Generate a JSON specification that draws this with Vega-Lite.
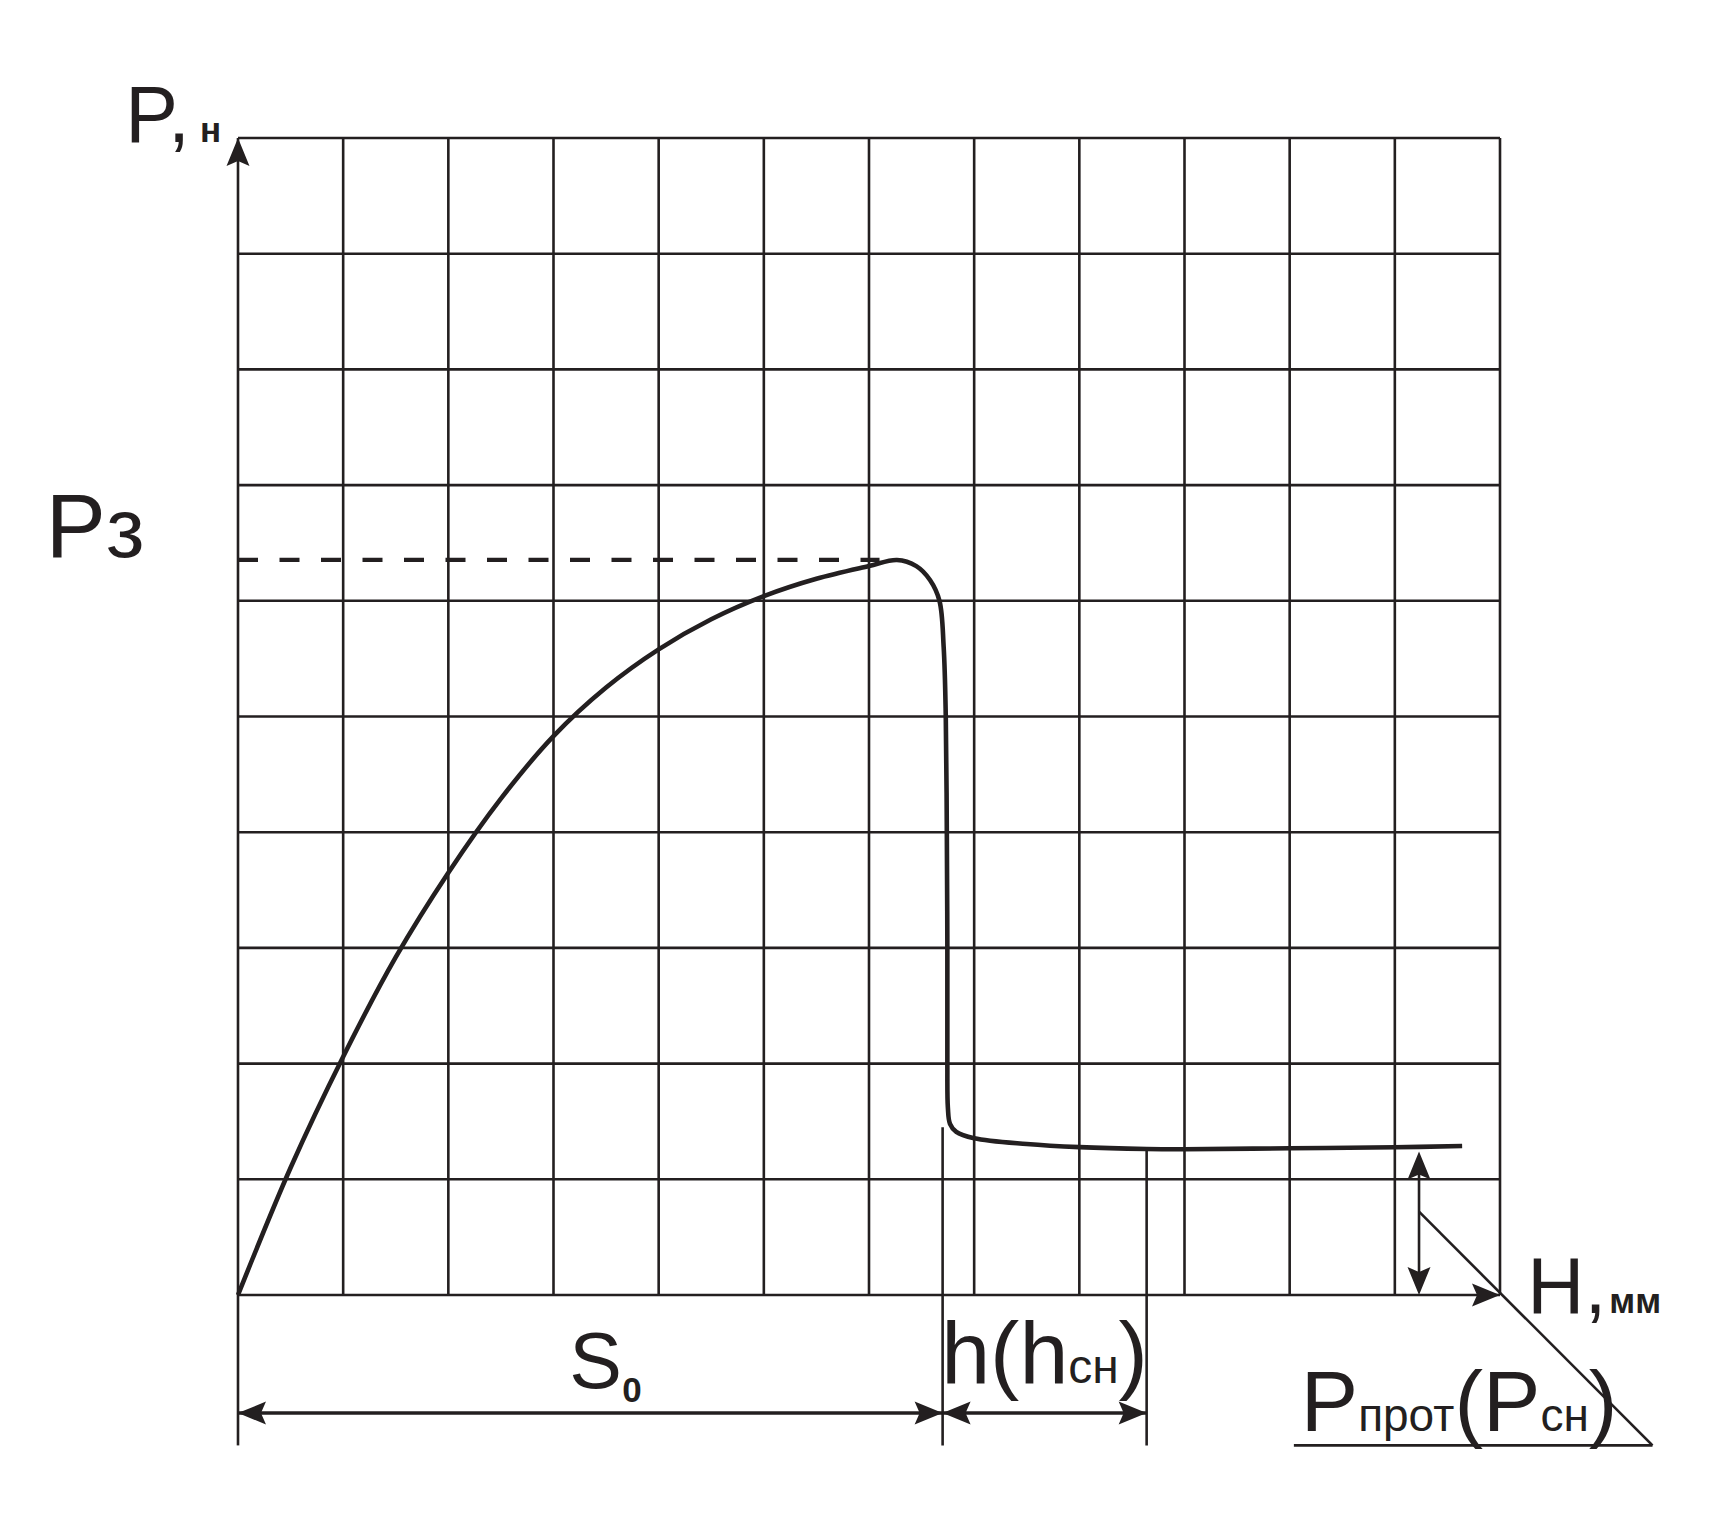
{
  "$schema": "https://vega.github.io/schema/vega-lite/v6.json",
  "width": 1262,
  "height": 1157,
  "autosize": {"type": "none"},
  "padding": {"left": 238, "top": 138, "right": 221, "bottom": 236},
  "background": "white",
  "config": {"view": {"stroke": null}},
  "encoding": {
    "x": {"field": "x", "type": "quantitative", "scale": {"domain": [0, 12], "nice": false, "zero": false}, "axis": null},
    "y": {"field": "y", "type": "quantitative", "scale": {"domain": [0, 10], "nice": false, "zero": false}, "axis": null}
  },
  "layer": [
    {
      "data": {"values": [
        {"x": 0, "y": 0, "x2": 0, "y2": 10},
        {"x": 1, "y": 0, "x2": 1, "y2": 10},
        {"x": 2, "y": 0, "x2": 2, "y2": 10},
        {"x": 3, "y": 0, "x2": 3, "y2": 10},
        {"x": 4, "y": 0, "x2": 4, "y2": 10},
        {"x": 5, "y": 0, "x2": 5, "y2": 10},
        {"x": 6, "y": 0, "x2": 6, "y2": 10},
        {"x": 7, "y": 0, "x2": 7, "y2": 10},
        {"x": 8, "y": 0, "x2": 8, "y2": 10},
        {"x": 9, "y": 0, "x2": 9, "y2": 10},
        {"x": 10, "y": 0, "x2": 10, "y2": 10},
        {"x": 11, "y": 0, "x2": 11, "y2": 10},
        {"x": 12, "y": 0, "x2": 12, "y2": 10},
        {"x": 0, "y": 0, "x2": 12, "y2": 0},
        {"x": 0, "y": 1, "x2": 12, "y2": 1},
        {"x": 0, "y": 2, "x2": 12, "y2": 2},
        {"x": 0, "y": 3, "x2": 12, "y2": 3},
        {"x": 0, "y": 4, "x2": 12, "y2": 4},
        {"x": 0, "y": 5, "x2": 12, "y2": 5},
        {"x": 0, "y": 6, "x2": 12, "y2": 6},
        {"x": 0, "y": 7, "x2": 12, "y2": 7},
        {"x": 0, "y": 8, "x2": 12, "y2": 8},
        {"x": 0, "y": 9, "x2": 12, "y2": 9},
        {"x": 0, "y": 10, "x2": 12, "y2": 10},
        {"x": 0, "y": 0, "x2": 0, "y2": -1.3},
        {"x": 6.70, "y": 1.45, "x2": 6.70, "y2": -1.3},
        {"x": 8.64, "y": 1.26, "x2": 8.64, "y2": -1.3},
        {"x": 11.23, "y": 1.2, "x2": 11.23, "y2": 0.05},
        {"x": 11.23, "y": 0.72, "x2": 13.45, "y2": -1.3},
        {"x": 10.04, "y": -1.3, "x2": 13.45, "y2": -1.3}
      ]},
      "mark": {"type": "rule", "color": "#231f20", "strokeWidth": 2.6},
      "encoding": {"x2": {"field": "x2"}, "y2": {"field": "y2"}}
    },
    {
      "data": {"values": [
        {"x": 0, "y": -1.02, "x2": 6.70, "y2": -1.02},
        {"x": 6.70, "y": -1.02, "x2": 8.64, "y2": -1.02}
      ]},
      "mark": {"type": "rule", "color": "#231f20", "strokeWidth": 3.3},
      "encoding": {"x2": {"field": "x2"}, "y2": {"field": "y2"}}
    },
    {
      "data": {"values": [{"x": 0, "y": 6.353, "x2": 6.1, "y2": 6.353}]},
      "mark": {"type": "rule", "color": "#231f20", "strokeWidth": 4.3, "strokeDash": [20, 21.5]},
      "encoding": {"x2": {"field": "x2"}, "y2": {"field": "y2"}}
    },
    {
      "data": {"values": [
        {"i": 0, "x": 0, "y": 0},
        {"i": 1, "x": 0.5, "y": 1.10},
        {"i": 2, "x": 1.0, "y": 2.06},
        {"i": 3, "x": 1.5, "y": 2.92},
        {"i": 4, "x": 2.0, "y": 3.65},
        {"i": 5, "x": 2.5, "y": 4.29},
        {"i": 6, "x": 3.0, "y": 4.83},
        {"i": 7, "x": 3.5, "y": 5.25},
        {"i": 8, "x": 4.0, "y": 5.58},
        {"i": 9, "x": 4.5, "y": 5.84},
        {"i": 10, "x": 5.0, "y": 6.04},
        {"i": 11, "x": 5.5, "y": 6.19},
        {"i": 12, "x": 6.0, "y": 6.30},
        {"i": 13, "x": 6.266, "y": 6.353},
        {"i": 14, "x": 6.45, "y": 6.30},
        {"i": 15, "x": 6.58, "y": 6.18},
        {"i": 16, "x": 6.67, "y": 6.0},
        {"i": 17, "x": 6.71, "y": 5.6},
        {"i": 18, "x": 6.73, "y": 5.0},
        {"i": 19, "x": 6.74, "y": 4.0},
        {"i": 20, "x": 6.745, "y": 3.0},
        {"i": 21, "x": 6.745, "y": 2.0},
        {"i": 22, "x": 6.75, "y": 1.62},
        {"i": 23, "x": 6.77, "y": 1.48},
        {"i": 24, "x": 6.83, "y": 1.41},
        {"i": 25, "x": 7.0, "y": 1.355},
        {"i": 26, "x": 7.5, "y": 1.305},
        {"i": 27, "x": 8.0, "y": 1.278},
        {"i": 28, "x": 8.64, "y": 1.262},
        {"i": 29, "x": 9.0, "y": 1.26},
        {"i": 30, "x": 10.0, "y": 1.268},
        {"i": 31, "x": 11.0, "y": 1.277},
        {"i": 32, "x": 11.64, "y": 1.288}
      ]},
      "mark": {"type": "line", "color": "#231f20", "strokeWidth": 4.6, "interpolate": "catmull-rom"},
      "encoding": {"order": {"field": "i", "type": "quantitative"}}
    },
    {
      "data": {"values": [
        {"x": 0, "y": 10},
        {"x": 11.23, "y": 1.24}
      ]},
      "mark": {"type": "point", "shape": "M0,0L0.82,2L0,1.64L-0.82,2Z", "size": 784, "filled": true, "color": "#231f20", "opacity": 1, "strokeWidth": 0, "angle": 0}
    },
    {
      "data": {"values": [
        {"x": 12, "y": 0},
        {"x": 6.70, "y": -1.02},
        {"x": 8.64, "y": -1.02}
      ]},
      "mark": {"type": "point", "shape": "M0,0L0.82,2L0,1.64L-0.82,2Z", "size": 784, "filled": true, "color": "#231f20", "opacity": 1, "strokeWidth": 0, "angle": 90}
    },
    {
      "data": {"values": [
        {"x": 11.23, "y": 0}
      ]},
      "mark": {"type": "point", "shape": "M0,0L0.82,2L0,1.64L-0.82,2Z", "size": 784, "filled": true, "color": "#231f20", "opacity": 1, "strokeWidth": 0, "angle": 180}
    },
    {
      "data": {"values": [
        {"x": 0, "y": -1.02},
        {"x": 6.70, "y": -1.02}
      ]},
      "mark": {"type": "point", "shape": "M0,0L0.82,2L0,1.64L-0.82,2Z", "size": 784, "filled": true, "color": "#231f20", "opacity": 1, "strokeWidth": 0, "angle": 270}
    },
    {
      "data": {"values": [
        {"x": -1.827, "y": 6.381, "t": "P"}
      ]},
      "mark": {"type": "text", "align": "left", "baseline": "alphabetic", "font": "Liberation Sans", "fontSize": 90, "color": "#231f20"},
      "encoding": {"text": {"field": "t"}}
    },
    {
      "data": {"values": [
        {"x": 6.686, "y": -0.763, "t": "h(h"},
        {"x": 8.373, "y": -0.763, "t": ")"}
      ]},
      "mark": {"type": "text", "align": "left", "baseline": "alphabetic", "font": "Liberation Sans", "fontSize": 88, "color": "#231f20"},
      "encoding": {"text": {"field": "t"}}
    },
    {
      "data": {"values": [
        {"x": 7.895, "y": -0.763, "t": "сн"}
      ]},
      "mark": {"type": "text", "align": "left", "baseline": "alphabetic", "font": "Liberation Sans", "fontSize": 48, "color": "#231f20"},
      "encoding": {"text": {"field": "t"}}
    },
    {
      "data": {"values": [
        {"x": 10.105, "y": -1.173, "t": "P"},
        {"x": 11.567, "y": -1.173, "t": "("},
        {"x": 11.839, "y": -1.173, "t": "P"},
        {"x": 12.843, "y": -1.173, "t": ")"}
      ]},
      "mark": {"type": "text", "align": "left", "baseline": "alphabetic", "font": "Liberation Sans", "fontSize": 86, "color": "#231f20"},
      "encoding": {"text": {"field": "t"}}
    },
    {
      "data": {"values": [
        {"x": 10.651, "y": -1.173, "t": "прот"},
        {"x": 12.385, "y": -1.173, "t": "сн"}
      ]},
      "mark": {"type": "text", "align": "left", "baseline": "alphabetic", "font": "Liberation Sans", "fontSize": 46, "color": "#231f20"},
      "encoding": {"text": {"field": "t"}}
    },
    {
      "data": {"values": [
        {"x": -1.071, "y": 9.968, "t": "P,"},
        {"x": 12.26, "y": -0.158, "t": "H,"},
        {"x": 3.149, "y": -0.806, "t": "S"}
      ]},
      "mark": {"type": "text", "align": "left", "baseline": "alphabetic", "font": "Liberation Sans", "fontSize": 79, "color": "#231f20"},
      "encoding": {"text": {"field": "t"}}
    },
    {
      "data": {"values": [
        {"x": -1.256, "y": 6.381, "t": "з"}
      ]},
      "mark": {"type": "text", "align": "left", "baseline": "alphabetic", "font": "Liberation Sans", "fontSize": 84, "color": "#231f20"},
      "encoding": {"text": {"field": "t"}}
    },
    {
      "data": {"values": [
        {"x": -0.362, "y": 9.968, "t": "н"},
        {"x": 13.04, "y": -0.158, "t": "мм"},
        {"x": 3.654, "y": -0.922, "t": "0"}
      ]},
      "mark": {"type": "text", "align": "left", "baseline": "alphabetic", "font": "Liberation Sans", "fontWeight": "bold", "fontSize": 35, "color": "#231f20"},
      "encoding": {"text": {"field": "t"}}
    }
  ]
}
